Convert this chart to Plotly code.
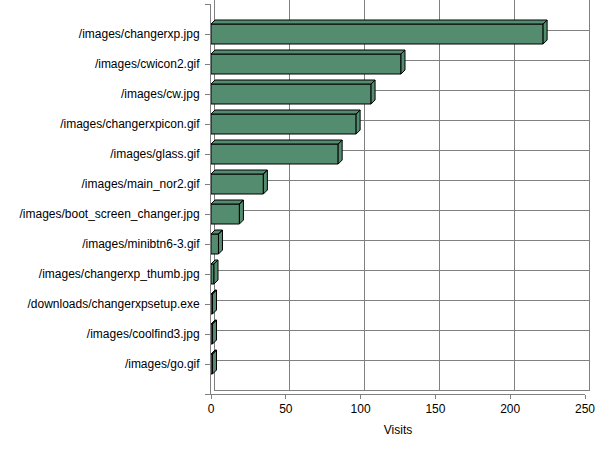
import plotly.graph_objects as go

# ---- data (top to bottom as shown) ----
pages = [
    "/images/changerxp.jpg",
    "/images/cwicon2.gif",
    "/images/cw.jpg",
    "/images/changerxpicon.gif",
    "/images/glass.gif",
    "/images/main_nor2.gif",
    "/images/boot_screen_changer.jpg",
    "/images/minibtn6-3.gif",
    "/images/changerxp_thumb.jpg",
    "/downloads/changerxpsetup.exe",
    "/images/coolfind3.jpg",
    "/images/go.gif",
]
visits = [222, 127, 107, 97, 85, 35, 19, 5, 2, 1, 1, 1]
x_ticks = [0, 50, 100, 150, 200, 250]

# ---- layout geometry ----
W, H = 600, 454
ML, MR, MT, MB = 211, 11, 0, 60
PW, PH = W - ML - MR, H - MT - MB
DEPTH = 4  # px, 3D offset
XMAX = 250
n = len(pages)
YMIN, YMAX = -1, n
front_w = PW - DEPTH
front_h = PH - DEPTH
dx = DEPTH * XMAX / front_w
dy = DEPTH * (YMAX - YMIN) / front_h
bar_w = 20 * (YMAX - YMIN) / front_h

pos = [n - 1 - i for i in range(n)]  # top category at highest position

GREEN = "rgb(84,140,112)"
GRID = "#808080"
FONT = dict(family="Liberation Sans, Arial, sans-serif", size=12, color="black")

fig = go.Figure()

# connectors (left wall / floor gridlines) in back-wall coordinates
cx, cy = [], []
for v in x_ticks:
    cx += [v - dx, v, None]
    cy += [YMIN - dy, YMIN, None]
for t in range(YMIN, YMAX + 1):
    cx += [-dx, 0, None]
    cy += [t - dy, t, None]
fig.add_trace(go.Scatter(x=cx, y=cy, mode="lines", line=dict(color=GRID, width=1),
                         xaxis="x", yaxis="y", cliponaxis=False, hoverinfo="skip",
                         showlegend=False))

# front faces of bars
fig.add_trace(go.Bar(x=visits, y=pos, orientation="h", width=bar_w,
                     marker=dict(color=GREEN, line=dict(color="black", width=1)),
                     xaxis="x2", yaxis="y2", showlegend=False))

# top and right faces
fx, fy = [], []
for v, c in zip(visits, pos):
    y0 = c + bar_w / 2
    y1 = c - bar_w / 2
    fx += [0, v, v + dx, dx, 0, None]
    fy += [y0, y0, y0 + dy, y0 + dy, y0, None]
    fx += [v, v + dx, v + dx, v, v, None]
    fy += [y1, y1 + dy, y0 + dy, y0, y1, None]
fig.add_trace(go.Scatter(x=fx, y=fy, mode="lines", fill="toself", fillcolor=GREEN,
                         line=dict(color="black", width=1), xaxis="x2", yaxis="y2",
                         cliponaxis=False, hoverinfo="skip", showlegend=False))

fig.update_layout(
    width=W, height=H, template="none",
    margin=dict(l=ML, r=MR, t=MT, b=MB, autoexpand=False),
    paper_bgcolor="white", plot_bgcolor="rgba(0,0,0,0)",
    font=FONT, showlegend=False,
    xaxis=dict(domain=[DEPTH / PW, 1], range=[0, XMAX], anchor="y",
               tickvals=x_ticks, showticklabels=False, ticks="",
               showgrid=True, gridcolor=GRID, gridwidth=1, zeroline=False,
               showline=True, mirror=True, linecolor=GRID, linewidth=1),
    yaxis=dict(domain=[DEPTH / PH, 1], range=[YMIN, YMAX], anchor="x",
               tickvals=list(range(0, n)), showticklabels=False, ticks="",
               showgrid=True, gridcolor=GRID, gridwidth=1, zeroline=False,
               showline=True, mirror=True, linecolor=GRID, linewidth=1),
    xaxis2=dict(domain=[0, front_w / PW], range=[0, XMAX], anchor="y2",
                tickvals=x_ticks, ticks="outside", ticklen=4, tickcolor=GRID,
                showgrid=False, zeroline=False, showline=True, linecolor=GRID,
                linewidth=1, tickfont=FONT,
                title=dict(text="Visits", font=FONT, standoff=10)),
    yaxis2=dict(domain=[0, front_h / PH], range=[YMIN, YMAX], anchor="x2",
                tickvals=list(range(YMIN, YMAX + 1)),
                ticktext=[""] + [pages[n - 1 - p] for p in range(n)] + [""],
                ticks="outside", ticklen=5, tickcolor=GRID, ticklabelstandoff=3,
                showgrid=False, zeroline=False, showline=True, linecolor=GRID,
                linewidth=1, tickfont=FONT),
)

fig.write_html("out.html", config={"displayModeBar": False},
               post_script="document.body.style.margin='0';document.body.style.padding='0';")
